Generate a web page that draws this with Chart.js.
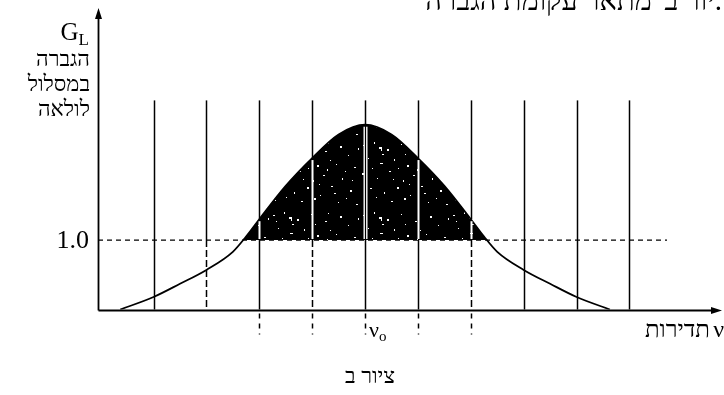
<!DOCTYPE html>
<html lang="he">
<head>
<meta charset="utf-8">
<script src="https://cdn.jsdelivr.net/npm/chart.js@4.4.1/dist/chart.umd.min.js"></script>
<style>
  html, body { margin: 0; padding: 0; background: #fff; }
</style>
</head>
<body>
<canvas id="gainChart" width="724" height="395"></canvas>
<script>
// frequency in units of the mode spacing, 0 = line centre (nu_0)
const curveNu   = [-4.63, -4, -3.5, -3, -2.5, -2.25, -2, -1.5, -1, -0.5, 0, 0.5, 1, 1.5, 2, 2.25, 2.5, 3, 3.5, 4, 4.63];
const curveGain = [0, 0.18, 0.37, 0.57, 0.83, 1.05, 1.30, 1.78, 2.18, 2.52, 2.66, 2.52, 2.18, 1.78, 1.30, 1.05, 0.83, 0.57, 0.37, 0.18, 0];
const modeNu    = [-4, -3, -2, -1, 0, 1, 2, 3, 4, 5];
const modeTop   = 3.01;
const threshold = 1.0;
const thresholdNu = [-5.05, 5.71];
const dashedModes = [-3, -1, 2];      // drawn dashed between axis and 1.0
const tickedModes = [-2, -1, 0, 1, 2]; // dashed stub under the axis

const SERIF = '"Liberation Serif", "DejaVu Serif", serif';

// black fill with white speckles
function speckle() {
  const c = document.createElement('canvas');
  c.width = 90; c.height = 70;
  const g = c.getContext('2d');
  g.fillStyle = '#000';
  g.fillRect(0, 0, 90, 70);
  g.fillStyle = '#fff';
  const dots = [
    [3, 5, 2, 1], [14, 2, 1, 2], [27, 9, 2, 2], [41, 4, 1, 1], [55, 11, 2, 1],
    [8, 18, 1, 1], [20, 23, 3, 1], [34, 19, 1, 2], [47, 25, 2, 2], [60, 20, 1, 1],
    [2, 33, 2, 2], [17, 38, 1, 1], [29, 31, 2, 1], [43, 40, 1, 2], [53, 35, 2, 1],
    [10, 48, 2, 1], [24, 52, 1, 2], [37, 47, 2, 2], [50, 55, 1, 1], [61, 46, 2, 1],
    [5, 60, 1, 1], [31, 61, 2, 1], [45, 14, 1, 1], [12, 28, 1, 1], [57, 29, 1, 2],
    [70, 6, 2, 2], [78, 15, 1, 1], [84, 27, 2, 1], [72, 38, 1, 2], [80, 50, 2, 2],
    [68, 62, 1, 1], [86, 64, 2, 1], [66, 24, 1, 1], [75, 31, 1, 1], [88, 8, 1, 2],
    [6, 11, 1, 1], [22, 14, 2, 1], [38, 28, 1, 1], [49, 44, 1, 1], [64, 53, 2, 1],
    [16, 57, 1, 1], [33, 39, 1, 1], [76, 58, 1, 1], [82, 40, 1, 1], [58, 3, 1, 1],
    [19, 7, 3, 2], [21, 9, 1, 2], [44, 58, 2, 2]
  ];
  dots.forEach(d => g.fillRect(d[0], d[1], d[2], d[3]));
  return g.createPattern(c, 'repeat');
}

function vline(ctx, px, yA, yB, dash) {
  ctx.setLineDash(dash || []);
  ctx.beginPath();
  ctx.moveTo(px, yA);
  ctx.lineTo(px, yB);
  ctx.stroke();
}

const modeLines = {
  id: 'modeLines',
  afterDatasetsDraw(chart) {
    const {ctx, scales: {x, y}} = chart;
    const y0 = y.getPixelForValue(0);
    const y1 = y.getPixelForValue(threshold);
    const yTop = y.getPixelForValue(modeTop);
    ctx.save();
    modeNu.forEach(nu => {
      const px = Math.round(x.getPixelForValue(nu)) + 0.5;
      const i = curveNu.indexOf(nu);
      const g = i >= 0 ? curveGain[i] : 0;
      const inFill = g > threshold;
      const yc = y.getPixelForValue(g);
      ctx.strokeStyle = '#000';
      ctx.lineWidth = 1.5;
      if (inFill) {
        // above the curve, then a light stripe through the filled area
        vline(ctx, px, yTop, yc);
        ctx.strokeStyle = '#fff';
        ctx.lineWidth = nu === 0 ? 4 : 2;
        vline(ctx, px, yc + 2, y1 - 1);
        if (nu === 0) {
          ctx.strokeStyle = '#000';
          ctx.lineWidth = 1.2;
          vline(ctx, px, yc, y1);
        }
        ctx.strokeStyle = '#000';
        ctx.lineWidth = 1.5;
        vline(ctx, px, y1, y0, dashedModes.includes(nu) ? [7, 3] : []);
      } else if (dashedModes.includes(nu)) {
        vline(ctx, px, yTop, y1);
        vline(ctx, px, y1, y0, [7, 3]);
      } else {
        vline(ctx, px, yTop, y0);
      }
      if (tickedModes.includes(nu)) {
        vline(ctx, px, y0 + 4, y0 + 25, [5, 5]);
      }
    });
    ctx.restore();
  }
};

const axesAndText = {
  id: 'axesAndText',
  afterDraw(chart) {
    const {ctx, chartArea: a, scales: {x, y}} = chart;
    const ox = Math.round(x.getPixelForValue(x.min)) + 0.5;
    const oy = Math.round(y.getPixelForValue(0)) + 0.5;
    ctx.save();
    ctx.strokeStyle = '#000';
    ctx.fillStyle = '#000';
    ctx.lineWidth = 1.8;
    ctx.setLineDash([]);
    ctx.beginPath();
    ctx.moveTo(ox, oy);
    ctx.lineTo(ox, a.top + 6);
    ctx.moveTo(ox, oy);
    ctx.lineTo(a.right - 6, oy);
    ctx.stroke();
    // arrow heads
    ctx.beginPath();
    ctx.moveTo(ox, a.top);
    ctx.lineTo(ox - 3.5, a.top + 11);
    ctx.lineTo(ox + 3.5, a.top + 11);
    ctx.closePath();
    ctx.moveTo(a.right, oy);
    ctx.lineTo(a.right - 11, oy - 3.5);
    ctx.lineTo(a.right - 11, oy + 3.5);
    ctx.closePath();
    ctx.fill();

    ctx.textBaseline = 'alphabetic';
    // y axis title
    ctx.textAlign = 'right';
    ctx.font = '17px ' + SERIF;
    const lw = ctx.measureText('L').width;
    ctx.fillText('L', 89, 45);
    ctx.font = '25px ' + SERIF;
    ctx.fillText('G', 89 - lw, 40);
    ctx.font = '22px ' + SERIF;
    ctx.fillText('הגברה', 90, 66);
    ctx.fillText('במסלול', 90, 91);
    ctx.fillText('לולאה', 90, 116);

    ctx.font = '26px ' + SERIF;
    ctx.textBaseline = 'middle';
    ctx.fillText(threshold.toFixed(1), 89, y.getPixelForValue(threshold) + 1);

    // x axis labels
    ctx.textBaseline = 'alphabetic';
    const cx = x.getPixelForValue(0);
    ctx.textAlign = 'left';
    ctx.font = '22px ' + SERIF;
    ctx.fillText('ν', cx + 4, 337);
    const nw = ctx.measureText('ν').width;
    ctx.font = '15px ' + SERIF;
    ctx.fillText('o', cx + 4 + nw, 341);

    ctx.textAlign = 'right';
    ctx.font = '24px ' + SERIF;
    ctx.fillText('ν', 724, 337);
    ctx.fillText('תדירות', 710, 337);

    ctx.textAlign = 'center';
    ctx.font = '22px ' + SERIF;
    ctx.fillText('ציור ב', 370, 383);

    // running text above the figure, cut at the top edge
    ctx.textAlign = 'right';
    ctx.font = '29px ' + SERIF;
    ctx.fillText('יור ב\' מתאר עקומת הגברה.', 722, 10);
    ctx.restore();
  }
};

const ctx = document.getElementById('gainChart');
new Chart(ctx, {
  type: 'scatter',
  data: {
    datasets: [{
      data: curveNu.map((v, i) => ({x: v, y: curveGain[i]})),
      showLine: true,
      borderColor: '#000',
      borderWidth: 1.8,
      pointRadius: 0,
      cubicInterpolationMode: 'monotone',
      fill: {value: threshold, above: speckle(), below: 'rgba(0,0,0,0)'}
    }, {
      data: thresholdNu.map(v => ({x: v, y: threshold})),
      showLine: true,
      borderColor: '#000',
      borderWidth: 1.3,
      borderDash: [5, 4],
      pointRadius: 0,
      fill: false
    }]
  },
  options: {
    responsive: false,
    animation: false,
    events: [],
    layout: {padding: {left: 98, right: 2, top: 8, bottom: 85.5}},
    plugins: {legend: {display: false}, tooltip: {enabled: false}},
    scales: {
      x: {type: 'linear', min: -5.05, max: 6.75, display: false},
      y: {min: 0, max: 4.34, display: false}
    }
  },
  plugins: [modeLines, axesAndText]
});
</script>
</body>
</html>
